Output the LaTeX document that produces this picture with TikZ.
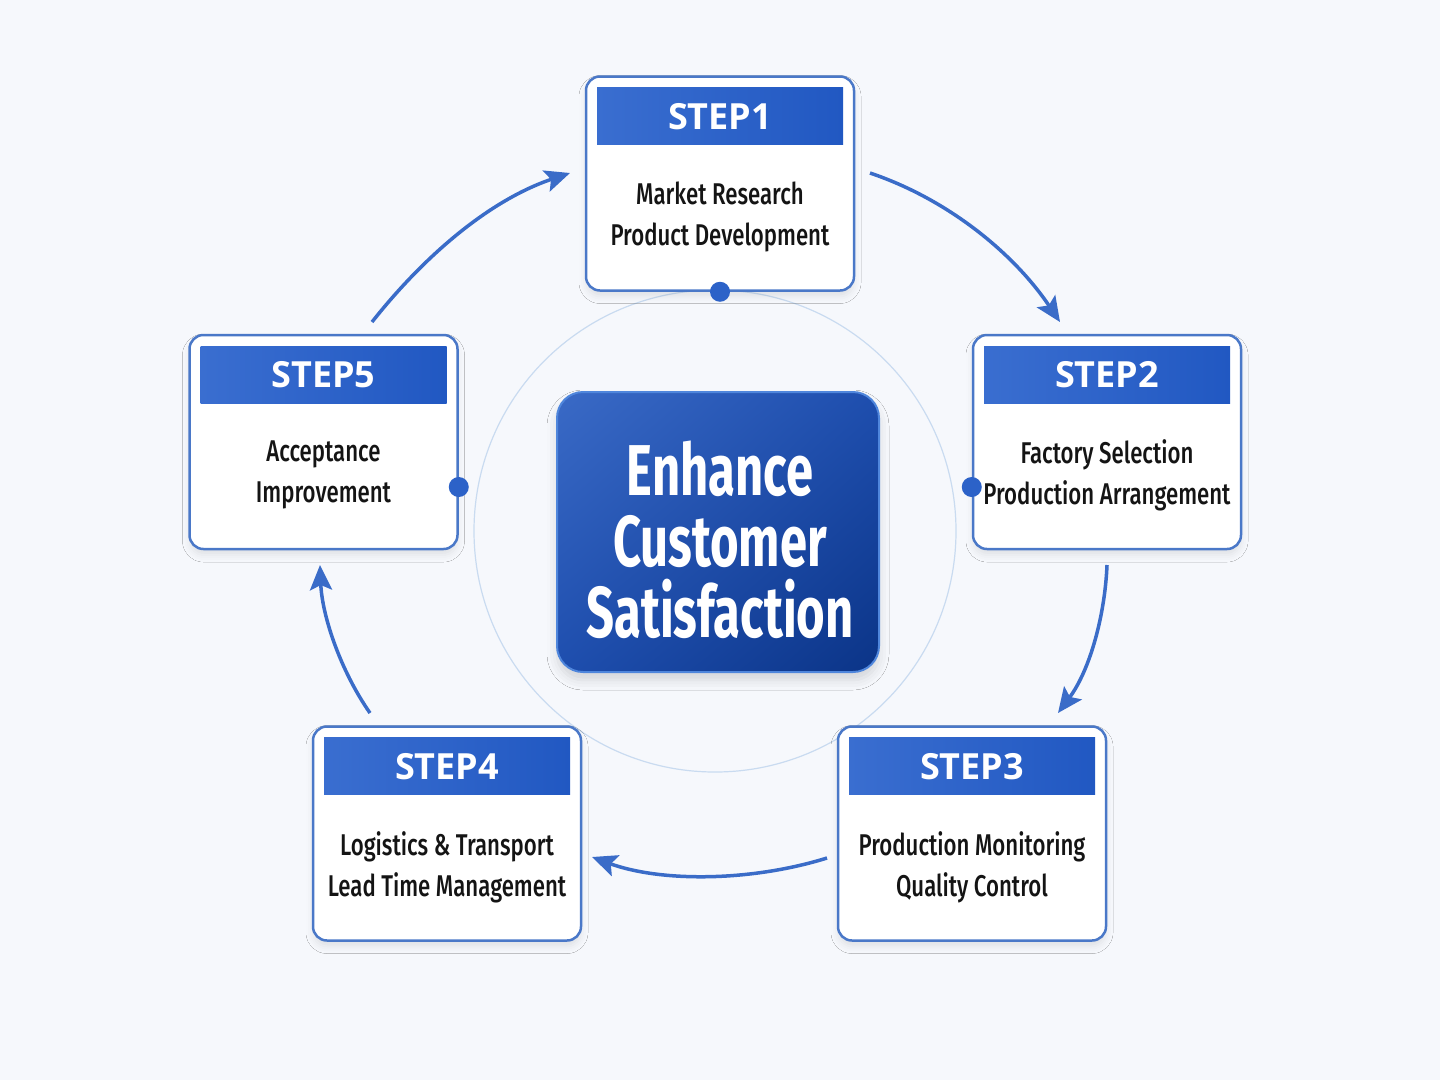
\documentclass[tikz,border=0pt]{standalone}
\usepackage{fontspec}
\setmainfont{Fira Sans}
\newfontfamily\bodyfont[FakeStretch=0.74]{Fira Sans Medium}
\newfontfamily\centerfont[FakeStretch=0.68]{Fira Sans}
\newfontfamily\headfont{Open Sans}
\usetikzlibrary{arrows.meta,calc,shadows.blur,shadings}
\definecolor{bgcol}{HTML}{F6F8FC}
\definecolor{boxline}{HTML}{4A78C8}
\definecolor{headL}{HTML}{3A6ED0}
\definecolor{headR}{HTML}{2158C2}
\definecolor{arrowcol}{HTML}{3A6CC8}
\definecolor{dotcol}{HTML}{2C62C8}
\definecolor{ringcol}{HTML}{C9DBF0}
\definecolor{txtcol}{HTML}{141414}
\definecolor{cenA}{HTML}{3A6AC6}
\definecolor{cenB}{HTML}{0B3487}
\definecolor{cenC}{HTML}{1E4EAE}
\definecolor{cenEdge}{HTML}{4F86DC}
\tikzset{
  stepbox/.style={draw=boxline, line width=2.5pt, fill=white, rounded corners=14pt,
    minimum width=268pt, minimum height=214pt, inner sep=0pt,
    blur shadow={shadow xshift=0pt, shadow yshift=-6pt, shadow blur radius=7pt, shadow opacity=9}},
  headbox/.style={left color=headL, right color=headR, minimum width=246pt, minimum height=57pt,
    inner sep=0pt, text=white, font=\headfont\bfseries\fontsize{36}{40}\selectfont},
  bodytext/.style={align=center, text=txtcol, font=\bodyfont\fontsize{30}{41}\selectfont, inner sep=0pt},
  dotnode/.style={circle, fill=dotcol, minimum size=20pt, inner sep=0pt},
  flow/.style={draw=arrowcol, line width=3.5pt, -{Stealth[length=25pt, width=22pt, inset=5pt]}}
}
\begin{document}
\begin{tikzpicture}[x=1pt, y=-1pt]
\fill[bgcol] (0,0) rectangle (1440,1080);
\useasboundingbox (0,0) rectangle (1440,1080);

% ring
\node[circle, draw=ringcol, line width=1.2pt, minimum size=482pt, inner sep=0pt] (ring) at (715,531) {};

% step boxes
\node[stepbox] (s1) at (720,183.5) {};
\node[stepbox] (s2) at (1107,442) {};
\node[stepbox] (s3) at (972,833.5) {};
\node[stepbox] (s4) at (447,833.5) {};
\node[stepbox] (s5) at (323.5,442) {};

% headers
\node[headbox] (h1) at ($(s1.north)+(0,41)$) {STEP1};
\node[headbox] (h2) at ($(s2.north)+(0,41)$) {STEP2};
\node[headbox] (h3) at ($(s3.north)+(0,41)$) {STEP3};
\node[headbox] (h4) at ($(s4.north)+(0,41)$) {STEP4};
\node[headbox] (h5) at ($(s5.north)+(0,41)$) {STEP5};

% body texts
\node[bodytext] (t1) at ($(s1.center)+(0,33)$) {Market Research\\Product Development};
\node[bodytext] (t2) at ($(s2.center)+(0,33)$) {Factory Selection\\Production Arrangement};
\node[bodytext] (t3) at ($(s3.center)+(0,34)$) {Production Monitoring\\Quality Control};
\node[bodytext] (t4) at ($(s4.center)+(0,34)$) {Logistics \& Transport\\Lead Time Management};
\node[bodytext] (t5) at ($(s5.center)+(0,33)$) {Acceptance\\Improvement};

% dots
\node[dotnode] (d1) at (s1.south) {};
\node[dotnode] (d2) at ($(s2.west)+(0,45)$) {};
\node[dotnode] (d5) at ($(s5.east)+(0,45)$) {};

% center box
\node[draw=cenEdge, line width=2pt, rounded corners=26pt, minimum width=322pt, minimum height=280pt,
  upper left=cenA, upper right=cenC, lower left=cenC, lower right=cenB,
  blur shadow={shadow xshift=0pt, shadow yshift=-8pt, shadow blur radius=10pt, shadow opacity=14}] (c) at (718,532) {};
\node[align=center, text=white, inner sep=0pt,
  font=\centerfont\bfseries\fontsize{72}{71}\selectfont] (ct) at (720,540) {Enhance\\Customer\\Satisfaction};

% arrows
\coordinate (a1s) at (870,173);  \coordinate (a1e) at (1060,322);
\coordinate (a2s) at (1107,565); \coordinate (a2e) at (1058,713);
\coordinate (a3s) at (827,858);  \coordinate (a3e) at (592,857);
\coordinate (a4s) at (370,713);  \coordinate (a4e) at (320,565);
\coordinate (a5s) at (372,322);  \coordinate (a5e) at (570,173);
\draw[flow] (a1s) .. controls (950,200) and (1015,255) .. (a1e);
\draw[flow] (a2s) .. controls (1105,615) and (1090,670) .. (a2e);
\draw[flow] (a3s) .. controls (750,882) and (660,882) .. (a3e);
\draw[flow] (a4s) .. controls (340,670) and (322,615) .. (a4e);
\draw[flow] (a5s) .. controls (425,255) and (490,200) .. (a5e);
\end{tikzpicture}
\end{document}
